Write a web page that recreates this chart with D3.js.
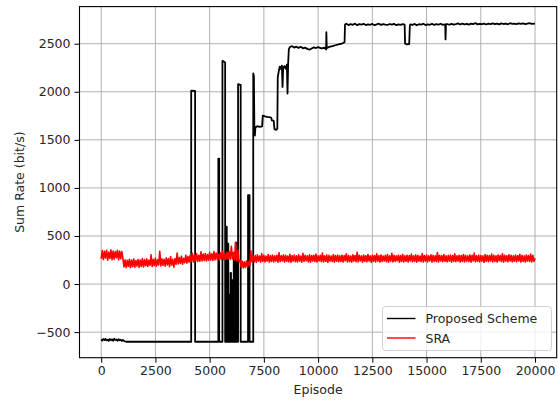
<!DOCTYPE html>
<html>
<head>
<meta charset="utf-8">
<script src="https://cdn.jsdelivr.net/npm/d3@7"></script>
<style>
  html, body { margin: 0; padding: 0; background: #ffffff; }
  svg { display: block; font-family: "DejaVu Sans", sans-serif; }
</style>
</head>
<body>
<svg id="chart" width="558" height="402"></svg>
<script>
// ---- data ----------------------------------------------------------------
const xTickValues = [0, 2500, 5000, 7500, 10000, 12500, 15000, 17500, 20000];
const yTickValues = [-500, 0, 500, 1000, 1500, 2000, 2500];
const seriesNames = ["Proposed Scheme", "SRA"];

// Proposed scheme: breakpoints of the (mostly piecewise-constant) training curve
const schemeEpisodes = [
  0, 50, 100, 150, 200, 250, 300, 350, 400, 450, 500, 550, 600, 650, 700, 750,
  800, 850, 900, 950, 1000, 1080, 1150,
  4150, 4150, 4330, 4330,
  5400, 5400, 5440, 5440,
  5590, 5590, 5650, 5715, 5715,
  5770, 5770, 5790, 5790,
  5840, 5840, 5860, 5860,
  5905, 5905, 5925, 5925,
  5965, 5965, 5985, 5985,
  6035, 6035, 6060, 6060,
  6110, 6110, 6130, 6130,
  6200, 6200, 6230, 6230,
  6310, 6310, 6430, 6430,
  6770, 6770, 6840, 6840,
  7010, 7010, 7040, 7065, 7085, 7110, 7200, 7300, 7420,
  7450, 7550, 7650, 7750, 7840, 7870, 7950, 7990, 8070, 8120,
  8140, 8180, 8230, 8280, 8330, 8360, 8390, 8450, 8500, 8560, 8590, 8620,
  8650, 8700, 8800, 8900, 9000, 9100, 9200, 9300, 9400, 9500, 9600, 9700,
  9800, 9900, 10000, 10150, 10300, 10370,
  10380, 10400, 10500, 10600, 10700, 10800, 10900, 11000, 11100, 11220,
  11240, 11300, 11400, 11500, 11600, 11700, 11800, 11900, 12000, 12100,
  12200, 12300, 12400, 12500, 12600, 12700, 12800, 12900, 13000, 13100,
  13200, 13300, 13400, 13500, 13600, 13700, 13800, 13900, 13990,
  14010, 14100, 14200, 14230,
  14250, 14350, 14450, 14550, 14650, 14750, 14850, 14950, 15050, 15150,
  15250, 15350, 15450, 15550, 15650, 15750, 15860,
  15875, 15895,
  15950, 16050, 16150, 16250, 16350, 16450, 16550, 16650, 16750, 16850,
  16950, 17050, 17150, 17250, 17350, 17450, 17550, 17650, 17750, 17850,
  17950, 18050, 18150, 18250, 18350, 18450, 18550, 18650, 18750, 18850,
  18950, 19050, 19150, 19250, 19350, 19450, 19550, 19650, 19750, 19850, 20000
];
const schemeRates = [
  -576, -588, -572, -583, -570, -586, -578, -591, -571, -584, -575, -589,
  -569, -582, -577, -590, -573, -585, -579, -592, -581, -595, -600,
  -600, 2012, 2008, -600,
  -600, 1305, 1305, -600,
  -600, 2322, 2315, 2305, -600,
  -600, 596, 596, -600,
  -600, 420, 420, -600,
  -600, -110, -110, -600,
  -600, 115, 115, -600,
  -600, 40, 40, -600,
  -600, 300, 300, -600,
  -600, 430, 430, -600,
  -600, 2080, 2072, -600,
  -600, 925, 925, -600,
  -600, 2190, 2165, 1560, 1545, 1630, 1642, 1634, 1640,
  1752, 1744, 1740, 1737, 1730, 1702, 1700, 1612, 1604, 1616,
  2150, 2205, 2262, 2238, 2272, 2050, 2252, 2266, 2240, 2282, 1982, 2300,
  2440, 2466, 2474, 2460, 2469, 2457, 2468, 2452, 2459, 2446, 2438, 2450,
  2462, 2455, 2464, 2452, 2458, 2440,
  2620, 2452, 2466, 2471, 2478, 2484, 2490, 2497, 2502, 2515,
  2700, 2708, 2694, 2704, 2697, 2709, 2693, 2703, 2698, 2707,
  2694, 2702, 2697, 2706, 2692, 2701, 2708, 2696, 2704, 2699,
  2695, 2705, 2698, 2707, 2693, 2702, 2697, 2704, 2698,
  2500, 2494, 2497, 2690,
  2701, 2695, 2706, 2692, 2703, 2698, 2708, 2694, 2702, 2697,
  2707, 2695, 2703, 2699, 2708, 2696, 2702,
  2545, 2700,
  2705, 2697, 2707, 2699, 2704, 2711, 2700, 2708, 2702, 2706,
  2698, 2709, 2703, 2715, 2701, 2707, 2704, 2710, 2700, 2708,
  2703, 2711, 2704, 2709, 2701, 2712, 2705, 2708, 2702, 2713,
  2706, 2709, 2703, 2711, 2707, 2712, 2704, 2710, 2713, 2706, 2710
];

// SRA baseline: one reading every 50 episodes, 0 .. 20000
const sraStep = 50;
const sraRates = [
  262, 348, 255, 340, 271, 352, 249, 333, 266, 355, 253, 344, 259, 337, 274, 350, 251, 342, 263, 339, 268,
  178, 252, 172, 246, 185, 258, 170, 249, 181, 262, 176, 244, 188, 256, 174, 251, 183, 266, 179, 254,
  190, 262, 184, 248, 195, 305, 182, 257, 191, 270, 186, 252, 198, 342, 189, 263, 194, 258, 187, 272,
  200, 266, 180, 285, 196, 258, 176, 264, 205, 322, 210, 276, 215, 290, 206, 268, 222, 302, 218, 286,
  228, 296, 234, 320, 230, 305, 240, 314, 236, 300, 238, 335, 242, 312, 245, 318, 240, 306, 248, 328,
  250, 316, 246, 338, 252, 322, 256, 310, 250, 326, 258, 344, 254, 318, 256, 332, 260, 336, 258, 394,
  262, 330, 248, 435, 244, 356, 236, 248, 176, 238, 168, 232, 172, 240, 182, 236, 190, 345, 230, 298,
  232, 296, 226, 304, 238, 292, 229, 318, 235, 298, 231, 290, 240, 306, 227, 297, 236, 302, 230, 293,
  239, 300, 228, 326, 234, 295, 241, 303, 229, 298, 237, 292, 232, 309, 226, 296, 240, 301, 233, 294,
  230, 305, 238, 291, 227, 319, 236, 299, 242, 293, 231, 304, 228, 297, 239, 300, 234, 312, 229, 295,
  241, 298, 233, 322, 230, 294, 237, 303, 226, 299, 240, 291, 235, 307, 228, 296, 238, 301, 232, 293,
  236, 300, 229, 296, 242, 315, 231, 298, 234, 292, 227, 305, 239, 297, 233, 330, 230, 299, 241, 294,
  228, 302, 237, 295, 232, 308, 240, 293, 226, 300, 235, 297, 231, 314, 238, 296, 229, 303, 236, 292,
  240, 299, 233, 306, 227, 294, 238, 321, 231, 298, 236, 293, 242, 301, 228, 297, 234, 309, 230, 295,
  237, 300, 229, 296, 241, 312, 232, 294, 235, 303, 227, 298, 239, 292, 233, 318, 230, 297, 238, 301,
  231, 295, 240, 304, 228, 298, 236, 293, 234, 327, 229, 300, 241, 296, 232, 306, 237, 294, 230, 299,
  239, 302, 227, 297, 235, 315, 233, 293, 240, 300, 229, 296, 236, 308, 231, 298, 238, 294, 234, 303,
  228, 299, 241, 322, 232, 295, 237, 301, 230, 297, 239, 293, 226, 306, 235, 300, 233, 296, 240, 311,
  231, 298, 236, 294, 229, 303, 242, 297, 234, 316, 227, 300, 238, 295, 232, 305, 240, 298, 230, 293,
  237, 301, 233, 296, 240, 309, 228, 298, 235, 294, 231, 303, 239, 297, 234, 312, 230, 299, 236, 268
];

// ---- layout --------------------------------------------------------------
const plot = { left: 79.5, right: 556.7, top: 6.6, bottom: 357.7 };
const fontSize = 12.5;
const colors = { scheme: "#000000", sra: "#ff0000", grid: "#b0b0b0" };

const svg = d3.select("#chart");
svg.append("rect").attr("width", 558).attr("height", 402).attr("fill", "#ffffff");

const x = d3.scaleLinear().domain([-1000, 21000]).range([plot.left, plot.right]);
const y = d3.scaleLinear().domain([-766, 2886]).range([plot.bottom, plot.top]);

// grid
const grid = svg.append("g").attr("stroke", colors.grid).attr("stroke-width", 1);
grid.selectAll("line.gx").data(xTickValues).join("line")
  .attr("x1", d => x(d)).attr("x2", d => x(d))
  .attr("y1", plot.top).attr("y2", plot.bottom);
grid.selectAll("line.gy").data(yTickValues).join("line")
  .attr("x1", plot.left).attr("x2", plot.right)
  .attr("y1", d => y(d)).attr("y2", d => y(d));

// series
svg.append("clipPath").attr("id", "plotClip")
  .append("rect").attr("x", plot.left).attr("y", plot.top)
  .attr("width", plot.right - plot.left).attr("height", plot.bottom - plot.top);

const line = d3.line().x(d => x(d[0])).y(d => y(d[1]));
const schemePts = schemeEpisodes.map((e, i) => [e, schemeRates[i]]);
const sraPts = sraRates.map((v, i) => [i * sraStep, v]);

const marks = svg.append("g").attr("clip-path", "url(#plotClip)");
marks.append("path").datum(schemePts)
  .attr("d", line).attr("fill", "none")
  .attr("stroke", colors.scheme).attr("stroke-width", 1.8)
  .attr("stroke-linejoin", "round");
marks.append("path").datum(sraPts)
  .attr("d", line).attr("fill", "none")
  .attr("stroke", colors.sra).attr("stroke-width", 1.6)
  .attr("stroke-linejoin", "round");

// axes
const xAxis = d3.axisBottom(x).tickValues(xTickValues).tickSize(5).tickPadding(3.5)
  .tickFormat(d3.format("d"));
const yAxis = d3.axisLeft(y).tickValues(yTickValues).tickSize(5).tickPadding(4)
  .tickFormat(d => d < 0 ? "\u2212" + Math.abs(d) : String(d));

const gx = svg.append("g").attr("transform", `translate(0,${plot.bottom})`).call(xAxis);
const gy = svg.append("g").attr("transform", `translate(${plot.left},0)`).call(yAxis);
[gx, gy].forEach(g => {
  g.select(".domain").remove();
  g.selectAll(".tick line").attr("stroke", "#000").attr("stroke-width", 1);
  g.selectAll(".tick text").attr("fill", "#262626")
    .style("font-family", '"DejaVu Sans", sans-serif').style("font-size", fontSize + "px");
});

// frame
svg.append("rect")
  .attr("x", plot.left).attr("y", plot.top)
  .attr("width", plot.right - plot.left).attr("height", plot.bottom - plot.top)
  .attr("fill", "none").attr("stroke", "#000").attr("stroke-width", 1.1);

// axis titles
svg.append("text")
  .attr("x", (plot.left + plot.right) / 2).attr("y", 393.5)
  .attr("text-anchor", "middle").attr("fill", "#262626")
  .style("font-size", fontSize + "px").text("Episode");
svg.append("text")
  .attr("transform", `translate(23.5,${(plot.top + plot.bottom) / 2}) rotate(-90)`)
  .attr("text-anchor", "middle").attr("fill", "#262626")
  .style("font-size", fontSize + "px").text("Sum Rate (bit/s)");

// legend
const legend = svg.append("g");
const lg = { x: 382.5, y: 306.5, w: 169, h: 44 };
legend.append("rect")
  .attr("x", lg.x).attr("y", lg.y).attr("width", lg.w).attr("height", lg.h)
  .attr("rx", 3).attr("fill", "#ffffff").attr("fill-opacity", 0.8)
  .attr("stroke", "#d0d0d0").attr("stroke-width", 1);
const legendColors = [colors.scheme, colors.sra];
const rows = legend.selectAll("g.row").data(seriesNames).join("g")
  .attr("transform", (d, i) => `translate(0,${lg.y + 12 + i * 19.5})`);
rows.append("line")
  .attr("x1", lg.x + 4.5).attr("x2", lg.x + 33)
  .attr("y1", 0).attr("y2", 0)
  .attr("stroke", (d, i) => legendColors[i]).attr("stroke-width", 1.4);
rows.append("text")
  .attr("x", lg.x + 43).attr("y", 4.5)
  .attr("fill", "#262626").style("font-size", fontSize + "px")
  .text(d => d);
</script>
</body>
</html>
